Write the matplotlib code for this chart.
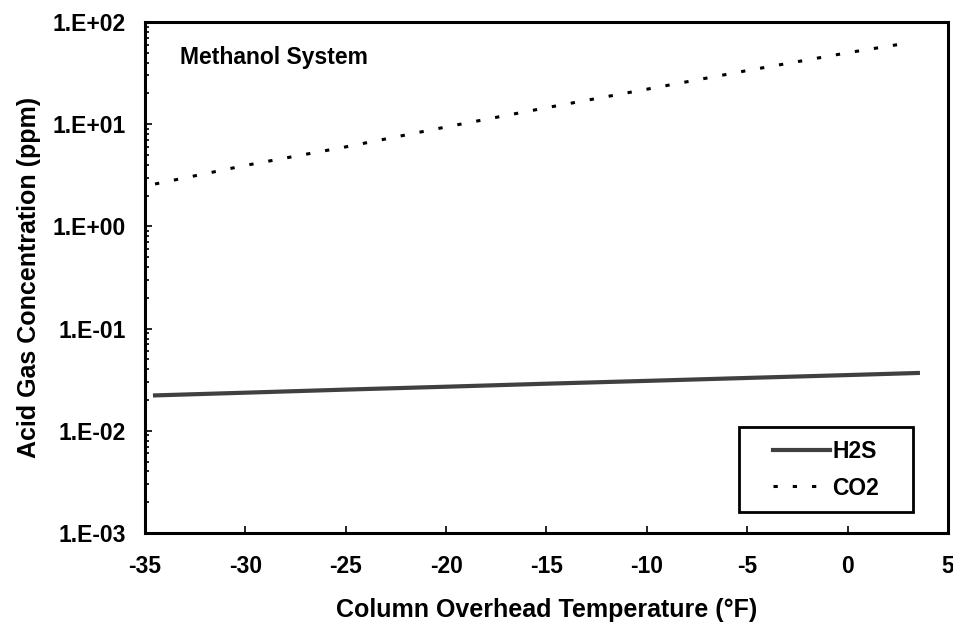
import matplotlib.pyplot as plt
import matplotlib.ticker as mticker
from matplotlib.patches import Rectangle
import numpy as np

plt.rcParams['font.family'] = ['Liberation Sans', 'DejaVu Sans']
plt.rcParams['font.weight'] = 'bold'
plt.rcParams['axes.unicode_minus'] = False

# values
h2s_temp = [-34.5, -30, -25, -20, -15, -10, -5, 0, 3.5]
h2s_ppm = [0.0222, 0.0236, 0.0253, 0.0270, 0.0289, 0.0308, 0.0329, 0.0351, 0.0368]

co2_temp = [-34.5, -30, -25, -20, -15, -10, -5, 0, 2.7]
co2_ppm = [2.6, 3.95, 6.0, 9.4, 14.5, 22.0, 33.5, 50.0, 61.0]

xticks = [-35, -30, -25, -20, -15, -10, -5, 0, 5]
yticks = [1e-3, 1e-2, 1e-1, 1e0, 1e1, 1e2]

fig = plt.figure(figsize=(9.54, 6.29), dpi=100)
ax = fig.add_axes([145 / 954, 96 / 629, 803 / 954, 511 / 629])

ax.plot(h2s_temp, h2s_ppm, color='#404040', lw=3, label='H2S')
ax.plot(co2_temp, co2_ppm, color='black', lw=2.2, linestyle=(0, (1.4, 4.9)), label='CO2')

ax.set_yscale('log')
ax.set_xlim(-35, 5)
ax.set_ylim(1e-3, 1e2)
ax.set_xticks(xticks)
ax.set_yticks(yticks)
ax.yaxis.set_major_formatter(mticker.FuncFormatter(lambda v, p: '1.E%+03d' % int(round(np.log10(v)))))
ax.yaxis.set_minor_locator(mticker.LogLocator(base=10, subs=np.arange(2, 10)))
ax.yaxis.set_minor_formatter(mticker.NullFormatter())

ax.tick_params(axis='both', which='major', direction='in', length=5, width=1.2, labelsize=16.5)
ax.tick_params(axis='y', which='minor', direction='in', length=3, width=1.2)
ax.tick_params(axis='x', pad=16)
ax.tick_params(axis='y', pad=14)

for s in ax.spines.values():
    s.set_linewidth(2.2)

ax.set_xlabel('Column Overhead Temperature (°F)', fontsize=18, fontweight='bold', labelpad=14)
ax.set_ylabel('Acid Gas Concentration (ppm)', fontsize=18, fontweight='bold', labelpad=8)

ax.text(0.044, 0.93, 'Methanol System', transform=ax.transAxes, fontsize=16.5, fontweight='bold',
        va='center', ha='left')

ax.legend(loc='center', bbox_to_anchor=(0.848, 0.124), frameon=False, fontsize=16.5,
          handlelength=2.5, handletextpad=0.1, labelspacing=0.6)
ax.add_patch(Rectangle((0.74, 0.041), 0.216, 0.166, transform=ax.transAxes, fill=False,
                       lw=2, ec='black', zorder=5))

fig.savefig('out.png', dpi=100)
